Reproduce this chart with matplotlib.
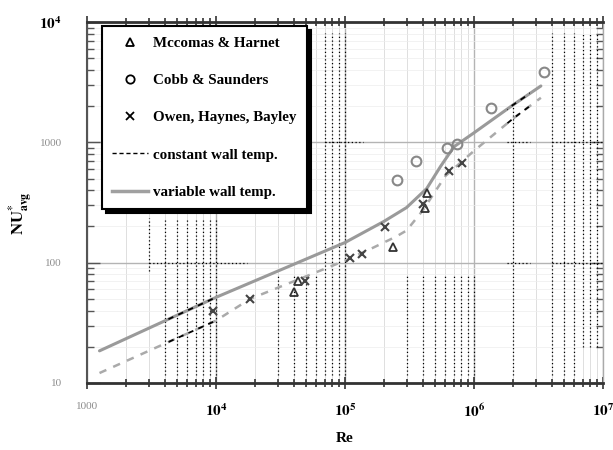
import numpy as np
import matplotlib
matplotlib.use("Agg")
import matplotlib.pyplot as plt
from matplotlib.lines import Line2D
from matplotlib.patches import Rectangle

plt.rcParams['font.family'] = ['Liberation Serif', 'DejaVu Serif']
plt.rcParams['mathtext.fontset'] = 'stix'

# experimental points
mccomas_re = [4.0e4, 4.3e4, 2.36e5, 4.2e5, 4.3e5]
mccomas_nu = [57, 71, 134, 285, 381]
cobb_re = [2.53e5, 3.55e5, 6.2e5, 7.4e5, 1.36e6, 3.5e6]
cobb_nu = [490, 705, 900, 973, 1940, 3850]
owen_re = [9.5e3, 1.84e4, 4.9e4, 1.1e5, 1.35e5, 2.04e5, 4.0e5, 6.4e5, 8.1e5]
owen_nu = [40, 50, 70, 109, 119, 196, 310, 582, 675]

# computed curves
var_re = [1.25e3, 1e4, 1e5, 2e5, 3e5, 4.3e5, 5.5e5, 7e5, 1e6, 2e6, 3.3e6]
var_nu = [18.5, 51.5, 147, 220, 287, 413, 630, 920, 1200, 2040, 2940]
const_re = [1.25e3, 1e4, 1.84e4, 1e5, 1.6e5, 2.5e5, 3e5, 4e5, 6e5, 1e6, 2e6, 3.3e6]
const_nu = [12.1, 33, 50, 104, 131, 165, 185, 271, 525, 850, 1570, 2345]

x_ticks = [1e3, 1e4, 1e5, 1e6, 1e7]
x_labels = ['1000', r'$\mathbf{10^4}$', r'$\mathbf{10^5}$', r'$\mathbf{10^6}$', r'$\mathbf{10^7}$']
y_ticks = [10, 100, 1000, 1e4]
y_labels = ['10', '100', '1000', r'$\mathbf{10^4}$']

fig = plt.figure(figsize=(6.13, 4.5), dpi=100)
ax = fig.add_axes([87 / 613, 1 - 383 / 450, 516 / 613, 361 / 450])
ax.set_xscale('log')
ax.set_yscale('log')
ax.set_xlim(1e3, 1e7)
ax.set_ylim(10, 1e4)

# log paper grid
ax.grid(True, which='major', color='#b4b4b4', lw=1.0)
ax.xaxis.grid(True, which='minor', color='#dedede', lw=0.7)
ax.yaxis.grid(True, which='minor', color='#ededed', lw=0.5)
ax.set_axisbelow(True)

# dotted rulings of the log paper (Re, Nu low, Nu high)
dots = [(3e3, 86, 233)]
dots += [(k * 1e3, 11.6, 233) for k in range(4, 11)]
dots += [(k * 1e4, 11.6, 78) for k in range(3, 7)]
dots += [(k * 1e4, 11.6, 8100) for k in range(7, 11)]
dots += [(k * 1e5, 11.6, 78) for k in range(3, 11)]
dots += [(2e6, 11.6, 2090)]
dots += [(k * 1e6, 11.6, 8100) for k in range(4, 7)]
dots += [(k * 1e6, 19.9, 8100) for k in range(7, 10)]
for re, lo, hi in dots:
    ax.vlines(re, lo, hi, colors='black', linestyles=(0, (1, 2)), lw=0.9)
hdots = [(100, 3e3, 1.74e4), (1000, 7e4, 1.38e5), (1000, 1.8e6, 2.7e6),
         (100, 1.8e6, 2.7e6), (1000, 4e6, 1e7), (100, 4e6, 1e7)]
for nu, a, b in hdots:
    ax.hlines(nu, a, b, colors='black', linestyles=(0, (1, 2)), lw=0.9)

# curves
ax.plot(var_re, var_nu, color='#9a9a9a', lw=2.2, solid_capstyle='round')
ax.plot(const_re, const_nu, color='#aaaaaa', lw=1.8, linestyle=(0, (3, 3)))

# darker dashes over parts of both curves
for a, b in [(4e3, 1e4), (1.8e6, 2.7e6)]:
    for xs, ys in [(var_re, var_nu), (const_re, const_nu)]:
        ln, = ax.plot(xs, ys, color='black', lw=1.3, linestyle=(0, (3, 3)))
        ln.set_clip_path(Rectangle((a, 1), b - a, 1e5, transform=ax.transData))

ax.plot(mccomas_re, mccomas_nu, '^', ms=6, mfc='none', mec='#333333', mew=1.3)
ax.plot(cobb_re, cobb_nu, 'o', ms=7, mfc='none', mec='#888888', mew=1.5)
ax.plot(owen_re, owen_nu, 'x', ms=6, color='#444444', mew=1.5)

# axes and ticks
for side in ['top', 'bottom']:
    ax.spines[side].set_linewidth(2)
    ax.spines[side].set_color('#333333')
ax.spines['left'].set_linewidth(1.5)
ax.spines['left'].set_color('#555555')
ax.spines['right'].set_linewidth(1)
ax.spines['right'].set_color('#aaaaaa')
ax.tick_params(axis='x', which='both', direction='inout', top=True,
               color='#333333', width=1.2)
ax.tick_params(axis='x', which='major', length=8, pad=10)
ax.tick_params(axis='x', which='minor', length=6, labelbottom=False)
ax.tick_params(axis='y', which='both', direction='in', right=True,
               color='#555555', width=1)
ax.tick_params(axis='y', which='major', length=9, pad=18)
ax.tick_params(axis='y', which='minor', length=5, labelleft=False)

ax.set_xticks(x_ticks)
ax.set_xticklabels(x_labels, fontsize=11)
ax.set_yticks(y_ticks)
ax.set_yticklabels(y_labels, fontsize=11)
for t in ax.get_xticklabels()[:1] + ax.get_yticklabels()[:3]:
    t.set_color('#8c8c8c')
    t.set_fontsize(8)

ax.set_xlabel('Re', fontsize=11, fontweight='bold')
ax.xaxis.set_label_coords(0.5, -0.135)
ax.set_ylabel(r'$\mathbf{NU}^{*}_{\mathbf{avg}}$', fontsize=12)
ax.yaxis.set_label_coords(-0.10, 0.47)

handles = [
    Line2D([], [], marker='^', ls='none', ms=6, mfc='none', mec='black', mew=1.3),
    Line2D([], [], marker='o', ls='none', ms=6, mfc='none', mec='black', mew=1.3),
    Line2D([], [], marker='x', ls='none', ms=6, color='black', mew=1.3),
    Line2D([], [], color='black', lw=1, linestyle=(0, (3, 2))),
    Line2D([], [], color='#a0a0a0', lw=2.5),
]
labels = ['Mccomas & Harnet', 'Cobb & Saunders', 'Owen, Haynes, Bayley',
          'constant wall temp.', 'variable wall temp.']
leg = ax.legend(handles, labels, loc='upper left', bbox_to_anchor=(0.029, 0.989),
                fancybox=False, shadow={'color': 'black', 'alpha': 1, 'ox': 3, 'oy': -3},
                framealpha=1, edgecolor='black', handlelength=2.4, handletextpad=0.3,
                borderpad=0.7, labelspacing=1.58, borderaxespad=0,
                prop={'family': 'Liberation Serif', 'weight': 'bold', 'size': 10.8})
leg.get_frame().set_linewidth(1.5)

fig.savefig('out.png', dpi=100)
